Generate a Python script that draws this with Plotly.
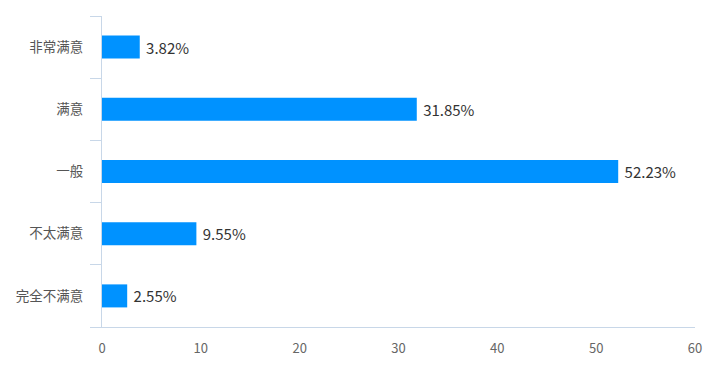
import plotly.graph_objects as go

categories = ["非常满意", "满意", "一般", "不太满意", "完全不满意"]
values = [3.82, 31.85, 52.23, 9.55, 2.55]
labels = ["3.82%", "31.85%", "52.23%", "9.55%", "2.55%"]
x_ticks = [0, 10, 20, 30, 40, 50, 60]

font_family = "Noto Sans CJK SC, Noto Sans, sans-serif"

fig = go.Figure(go.Bar(
    y=categories,
    x=values,
    orientation="h",
    marker=dict(color="#0092FF", line=dict(width=0)),
    width=0.37,
    text=labels,
    texttemplate="\u00a0%{text}",
    textposition="outside",
    textfont=dict(size=15, color="#333333", family=font_family),
    cliponaxis=False,
))

fig.update_layout(
    width=710,
    height=357,
    margin=dict(l=92, r=23, t=8, b=37),
    paper_bgcolor="white",
    plot_bgcolor="white",
    showlegend=False,
    font=dict(family=font_family),
    xaxis=dict(
        range=[0, 60],
        tickvals=x_ticks,
        showgrid=False,
        zeroline=False,
        showline=True,
        linecolor="#C8D7E8",
        linewidth=1,
        ticks="",
        tickfont=dict(size=13, color="#666666"),
        ticklabelstandoff=9,
    ),
    yaxis=dict(
        categoryorder="array",
        categoryarray=categories[::-1],
        range=[-0.5, 4.5],
        showgrid=False,
        zeroline=False,
        showline=True,
        linecolor="#C8D7E8",
        linewidth=1,
        ticks="outside",
        tickson="boundaries",
        ticklen=11,
        tickcolor="#C8D7E8",
        tickfont=dict(size=13.5, color="#555555"),
        ticklabelstandoff=15,
    ),
)

fig.write_html("out.html")
